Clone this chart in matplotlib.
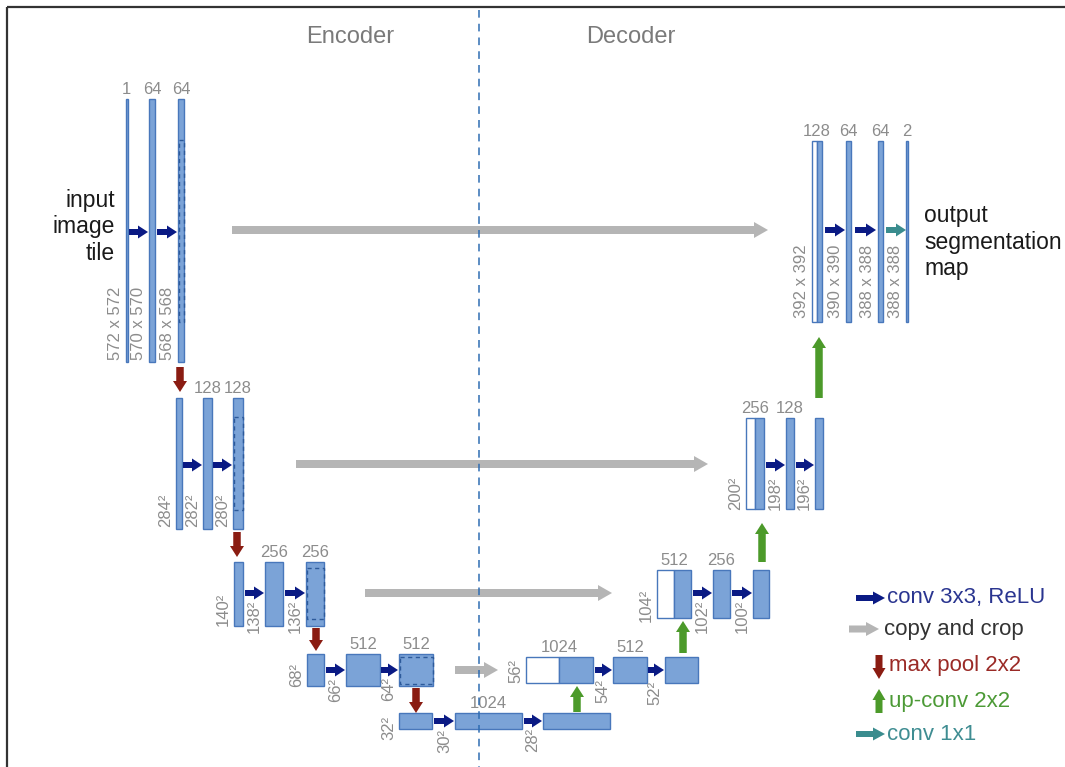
import matplotlib
matplotlib.use("Agg")
import matplotlib.pyplot as plt
from matplotlib.patches import Rectangle, FancyArrow

# ---------- labels (the "data" of the diagram) ----------
enc_channels = [["1", "64", "64"],
                ["", "128", "128"],
                ["", "256", "256"],
                ["", "512", "512"],
                ["", "1024", ""]]
enc_sizes = [["572 x 572", "570 x 570", "568 x 568"],
             ["284²", "282²", "280²"],
             ["140²", "138²", "136²"],
             ["68²", "66²", "64²"],
             ["32²", "30²", "28²"]]
dec_channels = [["128", "64", "64", "2"],
                ["256", "128", ""],
                ["512", "256", ""],
                ["1024", "512", ""]]
dec_sizes = [["392 x 392", "390 x 390", "388 x 388", "388 x 388"],
             ["200²", "198²", "196²"],
             ["104²", "102²", "100²"],
             ["56²", "54²", "52²"]]
legend_labels = ["conv 3x3, ReLU", "copy and crop", "max pool 2x2",
                 "up-conv 2x2", "conv 1x1"]

# ---------- layout (pixel coords, y down) ----------
# (left, right, top, bottom, size-label bottom)
enc_boxes = [
    [(125.5, 127.5, 99, 362, 360), (149, 155, 99, 362, 360), (178, 184, 99, 362, 360)],
    [(176, 182, 398, 529, 527), (203, 212, 398, 529, 527), (233, 243, 398, 529, 527)],
    [(234, 243, 562, 626, 626), (265, 283, 562, 626, 633), (306, 324, 562, 626, 633)],
    [(307, 324, 654, 686, 687), (346, 380, 654, 686, 702), (399, 433, 654, 686, 701)],
    [(399, 432, 713, 729, 740), (455, 522, 713, 729, 753), (543, 610, 713, 729, 752)],
]
# dashed inner box of the blocks that get copied: (left, right, top, bottom)
dashed_boxes = [(178.5, 183.5, 140, 322), (233.5, 242.5, 417, 510),
                (306.5, 323.5, 568, 619), (399.5, 432.5, 657, 684)]
# concat block: (white left, split, right, top, bottom, size-label bottom)
dec_concat = [(812, 817, 822, 141, 322, 318), (746, 755, 764, 418, 509, 510),
              (657, 674, 691, 570, 618, 622), (526, 559, 593, 657, 683, 683)]
dec_boxes = [
    [(846, 851, 141, 322, 318), (878, 883, 141, 322, 318), (906, 908, 141, 322, 318)],
    [(786, 794, 418, 509, 510), (815, 823, 418, 509, 510)],
    [(713, 730, 570, 618, 633), (753, 769, 570, 618, 633)],
    [(613, 647, 657, 683, 703), (665, 698, 657, 683, 705)],
]
conv_arrows = [(129, 148, 232), (157, 177, 232), (183, 202, 465), (213, 232, 465),
               (245, 264, 593), (285, 305, 593), (326, 345, 670), (381, 398, 670),
               (434, 454, 721), (524, 542, 721),
               (595, 612, 670), (648, 664, 670), (693, 712, 593), (732, 752, 593),
               (766, 785, 465), (796, 814, 465), (825, 845, 230), (855, 876, 230)]
copy_arrows = [(232, 768, 230), (296, 708, 464), (365, 612, 593), (455, 498, 670)]
pool_arrows = [(180, 367, 392), (237, 532, 557), (316, 628, 651), (416, 688, 713)]
up_arrows = [(577, 712, 686), (683, 653, 621), (762, 562, 523), (819, 398, 337)]
final_arrow = (886, 906, 230)

# ---------- styles ----------
FILL = "#7ba3d7"
EDGE = "#4877bb"
NAVY = "#0a1a84"
GREY_ARR = "#b5b5b5"
RED = "#8a1c12"
GREEN = "#4c9a2a"
TEAL = "#3a8c8e"
LBL = "#8c8c8c"
FONT = ["Liberation Sans", "DejaVu Sans"]

fig = plt.figure(figsize=(10.65, 7.67), dpi=100)
ax = fig.add_axes([0, 0, 1, 1])
ax.set_xlim(0, 1065)
ax.set_ylim(767, 0)
ax.axis("off")


def block(l, r, t, b, fill=FILL):
    ax.add_patch(Rectangle((l, t), r - l, b - t, facecolor=fill,
                           edgecolor=EDGE, linewidth=1.0, zorder=3))


def chan_label(l, r, t, s):
    if s:
        ax.text((l + r) / 2, t - 2, s, ha="center", va="bottom", fontsize=12,
                color=LBL, family=FONT, zorder=5)


def size_label(l, yb, s):
    ax.text(l - 3, yb, s, rotation=90, ha="right", va="bottom", fontsize=12,
            color=LBL, family=FONT, zorder=5)


def harrow(x0, x1, y, color, w=6, hw=13, hl=10):
    ax.add_patch(FancyArrow(x0, y, x1 - x0, 0, width=w, head_width=hw,
                            head_length=hl, length_includes_head=True,
                            color=color, linewidth=0, zorder=4))


def varrow(x, y0, y1, color, w=7.5, hw=14, hl=11):
    ax.add_patch(FancyArrow(x, y0, 0, y1 - y0, width=w, head_width=hw,
                            head_length=hl, length_includes_head=True,
                            color=color, linewidth=0, zorder=4))


# frame
ax.plot([7, 1065], [7, 7], color="#333333", lw=1.6, solid_capstyle="butt")
ax.plot([7, 7], [7, 767], color="#333333", lw=1.6, solid_capstyle="butt")

# encoder / decoder split
ax.plot([479, 479], [10, 767], color="#2f6db3", lw=1.1, ls=(0, (5, 4)), zorder=6)
ax.text(350, 37, "Encoder", ha="center", va="center", fontsize=17,
        color="#7a7a7a", family=["Liberation Sans Narrow", "Liberation Sans"])
ax.text(631, 37, "Decoder", ha="center", va="center", fontsize=17,
        color="#7a7a7a", family=["Liberation Sans Narrow", "Liberation Sans"])

# encoder blocks
for lvl, boxes in enumerate(enc_boxes):
    for i, (l, r, t, b, yb) in enumerate(boxes):
        block(l, r, t, b)
        chan_label(l, r, t, enc_channels[lvl][i])
        size_label(l, yb, enc_sizes[lvl][i])
for l, r, t, b in dashed_boxes:
    ax.add_patch(Rectangle((l, t), r - l, b - t, facecolor="none",
                           edgecolor="#2d5a9a", linewidth=1.0,
                           ls=(0, (3, 2.5)), zorder=4))

# decoder blocks
for lvl, (lw_, sp, r, t, b, yb) in enumerate(dec_concat):
    block(lw_, sp, t, b, fill="white")
    block(sp, r, t, b)
    chan_label(lw_, r, t, dec_channels[lvl][0])
    size_label(lw_, yb, dec_sizes[lvl][0])
    for i, (l, rr, tt, bb, yb2) in enumerate(dec_boxes[lvl]):
        block(l, rr, tt, bb)
        chan_label(l, rr, tt, dec_channels[lvl][i + 1])
        size_label(l, yb2, dec_sizes[lvl][i + 1])

# arrows
for x0, x1, y in conv_arrows:
    harrow(x0, x1, y, NAVY)
harrow(*final_arrow, TEAL)
for x0, x1, y in copy_arrows:
    harrow(x0, x1, y, GREY_ARR, w=8, hw=16, hl=14)
for x, y0, y1 in pool_arrows:
    varrow(x, y0, y1, RED)
for x, y0, y1 in up_arrows:
    varrow(x, y0, y1, GREEN)

# side texts
ax.text(115, 227, "input\nimage\ntile", ha="right", va="center", fontsize=16.5,
        color="#1a1a1a", family=FONT, linespacing=1.17, multialignment="right")
ax.text(924, 242, "output\nsegmentation\nmap", ha="left", va="center",
        fontsize=16.5, color="#1a1a1a", family=FONT, linespacing=1.2)

# legend
leg_text_colors = ["#2a3590", "#333333", "#9a2a26", "#4c9a36", "#3f8d92"]
leg_y = [598, 629, 666, 702, 734]
harrow(856, 885, leg_y[0], NAVY, w=6, hw=13, hl=12)
harrow(849, 879, leg_y[1], GREY_ARR, w=7, hw=14, hl=13)
varrow(879, 655, 679, RED, w=7, hw=13, hl=11)
varrow(879, 713, 689, GREEN, w=7, hw=13, hl=11)
harrow(856, 885, leg_y[4], TEAL, w=6, hw=13, hl=12)
leg_x = [887, 884, 889, 889, 887]
for s, c, x, y in zip(legend_labels, leg_text_colors, leg_x, leg_y):
    ax.text(x, y, s, ha="left", va="center", fontsize=16, color=c, family=FONT)

fig.savefig("out.png", dpi=100)
